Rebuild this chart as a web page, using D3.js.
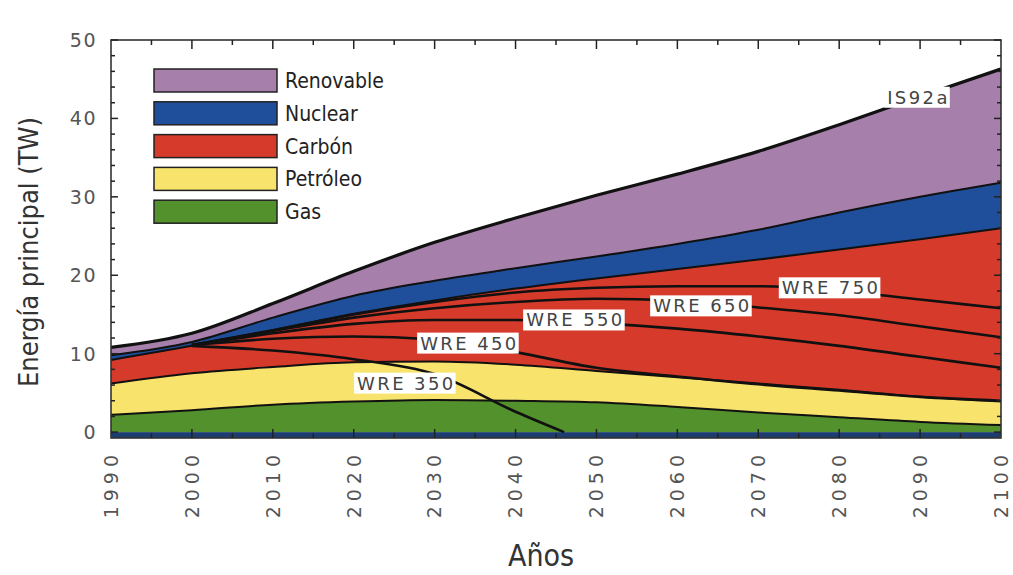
<!DOCTYPE html>
<html>
<head>
<meta charset="utf-8">
<script src="https://cdn.jsdelivr.net/npm/d3@7"></script>
<style>
  html, body { margin: 0; padding: 0; background: #fff; }
  svg { display: block; }
</style>
</head>
<body>
<svg id="chart" width="1013" height="575"></svg>
<script>
// Primary power by source (TW), IS92a scenario, decade steps
const years     = [1990, 2000, 2010, 2020, 2030, 2040, 2050, 2060, 2070, 2080, 2090, 2100];
const gas       = [2.2, 2.8, 3.5, 3.9, 4.1, 4.0, 3.8, 3.2, 2.5, 1.9, 1.3, 0.9];
const petroleo  = [4.0, 4.7, 4.8, 5.0, 4.9, 4.6, 4.0, 3.8, 3.7, 3.5, 3.2, 3.0];
const carbon    = [3.0, 3.5, 4.7, 6.2, 7.8, 9.7, 11.8, 13.8, 15.8, 17.9, 20.1, 22.1];
const nuclear   = [0.6, 0.5, 1.6, 2.3, 2.5, 2.6, 2.8, 3.2, 3.8, 4.7, 5.4, 5.8];
const renovable = [1.0, 1.1, 1.8, 3.1, 4.9, 6.4, 7.8, 8.9, 10.0, 11.2, 12.8, 14.5];

const sourceNames  = ["Gas", "Petróleo", "Carbón", "Nuclear", "Renovable"];
const sourceColors = ["#52912c", "#f8e46c", "#d63a2b", "#1f4f9b", "#a77fab"];

// Fossil power allowed under each WRE stabilisation path (TW)
const wreYears = [2000, 2010, 2020, 2030, 2040, 2050, 2060, 2070, 2080, 2090, 2100];
const wre750 = [11.1, 13.0, 15.0, 16.6, 17.8, 18.4, 18.6, 18.6, 18.0, 16.9, 15.8];
const wre650 = [11.1, 12.9, 14.6, 15.8, 16.6, 17.0, 16.8, 15.9, 14.9, 13.5, 12.1];
const wre550 = [11.1, 12.6, 13.8, 14.3, 14.3, 13.9, 13.2, 12.2, 11.0, 9.6, 8.2];
const wre450 = [11.1, 11.9, 12.2, 11.8, 10.2, 8.2, 7.1, 6.1, 5.3, 4.5, 4.0];
const wre350Years = [2000, 2010, 2020, 2030, 2040, 2046];
const wre350 = [11.0, 10.4, 9.3, 7.4, 2.6, 0.0];

// Curve labels: text, anchor year, anchor value
const labelTexts  = ["IS92a", "WRE 750", "WRE 650", "WRE 550", "WRE 450", "WRE 350"];
const labelYears  = [2089.8, 2079.0, 2063.1, 2047.4, 2034.3, 2026.5];
const labelValues = [42.7, 18.4, 16.1, 14.3, 11.35, 6.25];

const yTicks = [0, 10, 20, 30, 40, 50];
const xTicks = d3.range(1990, 2101, 10);

const svg = d3.select("#chart");
const margin = { left: 111, right: 12, top: 40, bottom: 137 };
const W = 1013, H = 575;

const x = d3.scaleLinear().domain([1990, 2100]).range([margin.left, W - margin.right]);
const y = d3.scaleLinear().domain([-0.75, 50]).range([H - margin.bottom, margin.top]);

const narrow = "'DejaVu Sans Condensed', 'Liberation Sans Narrow', sans-serif";
const wide = "'DejaVu Sans', Verdana, sans-serif";

// stacked layers
const rows = years.map((yr, i) => ({
  year: yr, Gas: gas[i], "Petróleo": petroleo[i], "Carbón": carbon[i],
  Nuclear: nuclear[i], Renovable: renovable[i]
}));
const series = d3.stack().keys(sourceNames)(rows);

svg.append("defs").append("clipPath").attr("id", "plot")
  .append("rect")
  .attr("x", x(1990)).attr("y", y(50))
  .attr("width", x(2100) - x(1990)).attr("height", y(-0.75) - y(50));

const plot = svg.append("g").attr("clip-path", "url(#plot)");

const area = d3.area()
  .x(d => x(d.data.year))
  .y0(d => y(d[0]))
  .y1(d => y(d[1]))
  .curve(d3.curveMonotoneX);

plot.selectAll("path.layer")
  .data(series)
  .join("path")
  .attr("class", "layer")
  .attr("fill", (d, i) => sourceColors[i])
  .attr("d", area);

// dark strip below the zero line
plot.append("rect")
  .attr("x", x(1990)).attr("width", x(2100) - x(1990))
  .attr("y", y(0)).attr("height", y(-0.75) - y(0))
  .attr("fill", "#1d3d70");

// layer boundaries
const edge = d3.line()
  .x(d => x(d.data.year))
  .y(d => y(d[1]))
  .curve(d3.curveMonotoneX);

plot.selectAll("path.edge")
  .data(series)
  .join("path")
  .attr("class", "edge")
  .attr("fill", "none")
  .attr("stroke", "#111")
  .attr("stroke-width", (d, i) => i === series.length - 1 ? 3.2 : 2)
  .attr("d", edge);

// WRE fossil-power paths
const wreLine = d3.line()
  .x(d => x(d[0]))
  .y(d => y(d[1]))
  .curve(d3.curveMonotoneX);

const wreSets = [
  wreYears.map((yr, i) => [yr, wre750[i]]),
  wreYears.map((yr, i) => [yr, wre650[i]]),
  wreYears.map((yr, i) => [yr, wre550[i]]),
  wreYears.map((yr, i) => [yr, wre450[i]]),
  wre350Years.map((yr, i) => [yr, wre350[i]])
];

plot.selectAll("path.wre")
  .data(wreSets)
  .join("path")
  .attr("class", "wre")
  .attr("fill", "none")
  .attr("stroke", "#111")
  .attr("stroke-width", 2.6)
  .attr("d", wreLine);

// curve labels on white boxes
const labels = svg.append("g");
labelTexts.forEach((t, i) => {
  const g = labels.append("g")
    .attr("transform", `translate(${x(labelYears[i])},${y(labelValues[i])})`);
  const box = g.append("rect").attr("fill", "#fff");
  const txt = g.append("text")
    .attr("text-anchor", "middle")
    .attr("dy", "0.36em")
    .attr("font-family", wide)
    .attr("font-size", 18)
    .attr("letter-spacing", 2.4)
    .attr("fill", "#444")
    .text(t);
  const bb = txt.node().getBBox();
  box.attr("x", bb.x - 3).attr("width", bb.width + 3)
     .attr("y", -10.5).attr("height", 21);
});

// frame
svg.append("rect")
  .attr("x", x(1990)).attr("y", y(50))
  .attr("width", x(2100) - x(1990)).attr("height", y(-0.75) - y(50))
  .attr("fill", "none").attr("stroke", "#333").attr("stroke-width", 1.6);

// inward ticks
const tickG = svg.append("g").attr("stroke", "#222").attr("stroke-width", 1.5);
d3.range(0, 51, 2).forEach(v => {
  const len = v % 10 === 0 ? 7 : 4;
  tickG.append("line").attr("x1", x(1990)).attr("x2", x(1990) + len).attr("y1", y(v)).attr("y2", y(v));
  tickG.append("line").attr("x1", x(2100)).attr("x2", x(2100) - len).attr("y1", y(v)).attr("y2", y(v));
});
d3.range(1995, 2100, 5).forEach(v => {
  const len = v % 10 === 0 ? 9 : 5;
  tickG.append("line").attr("x1", x(v)).attr("x2", x(v)).attr("y1", y(50)).attr("y2", y(50) + len);
  tickG.append("line").attr("x1", x(v)).attr("x2", x(v)).attr("y1", y(-0.75)).attr("y2", y(-0.75) - len);
});

// y tick labels
svg.append("g").selectAll("text")
  .data(yTicks)
  .join("text")
  .attr("x", 97)
  .attr("y", d => y(d))
  .attr("dy", "0.36em")
  .attr("text-anchor", "end")
  .attr("font-family", wide)
  .attr("font-size", 19)
  .attr("letter-spacing", 1.5)
  .attr("fill", "#555")
  .text(d => d);

// x tick labels (rotated)
svg.append("g").selectAll("text")
  .data(xTicks)
  .join("text")
  .attr("transform", d => `translate(${x(d)},450) rotate(-90)`)
  .attr("dy", "0.36em")
  .attr("text-anchor", "end")
  .attr("font-family", wide)
  .attr("font-size", 19)
  .attr("letter-spacing", 5)
  .attr("fill", "#555")
  .text(d => d);

// axis titles
svg.append("text")
  .attr("transform", "translate(28,252) rotate(-90)")
  .attr("dy", "0.36em")
  .attr("text-anchor", "middle")
  .attr("font-family", narrow)
  .attr("font-size", 27)
  .attr("fill", "#333")
  .text("Energía principal (TW)");

svg.append("text")
  .attr("x", 541).attr("y", 566)
  .attr("text-anchor", "middle")
  .attr("font-family", narrow)
  .attr("font-size", 30)
  .attr("fill", "#333")
  .text("Años");

// legend, top entry first
const legendOrder = sourceNames.slice().reverse();
const legend = svg.append("g");
legendOrder.forEach((name, i) => {
  const c = sourceColors[sourceNames.indexOf(name)];
  const cy = 80.5 + i * 32.8;
  legend.append("rect")
    .attr("x", 154).attr("y", cy - 11.5)
    .attr("width", 123).attr("height", 23)
    .attr("fill", c).attr("stroke", "#222").attr("stroke-width", 1.5);
  legend.append("text")
    .attr("x", 285).attr("y", cy)
    .attr("dy", "0.36em")
    .attr("font-family", narrow)
    .attr("font-size", 21)
    .attr("fill", "#222")
    .text(name);
});
</script>
</body>
</html>
